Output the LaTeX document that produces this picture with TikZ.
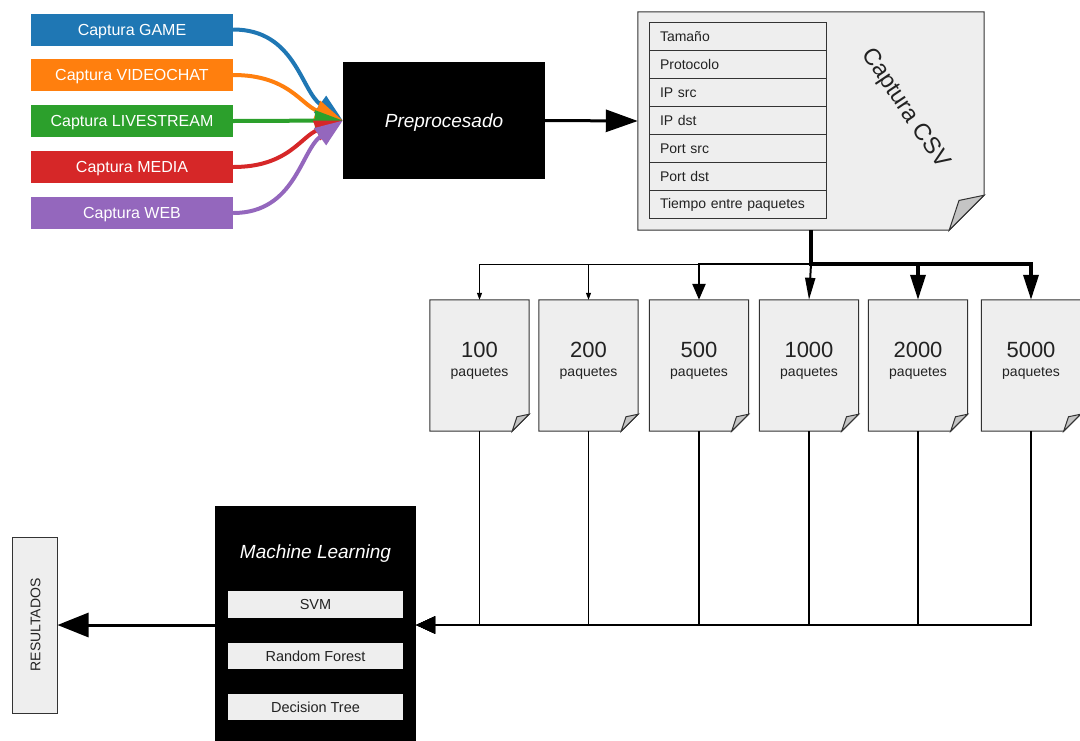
\documentclass[tikz,border=0pt]{standalone}
\usepackage{fontspec}
\setmainfont{Liberation Sans}
\usetikzlibrary{arrows.meta,calc}
\definecolor{cgame}{HTML}{1F77B4}
\definecolor{cvideo}{HTML}{FF7F0E}
\definecolor{clive}{HTML}{2CA02C}
\definecolor{cmedia}{HTML}{D62728}
\definecolor{cweb}{HTML}{9467BD}
\definecolor{docfill}{HTML}{EEEEEE}
\definecolor{docedge}{HTML}{333333}
\definecolor{foldfill}{HTML}{C4C4C4}
\definecolor{txt}{HTML}{222222}
\newcommand\paperdoc[2]{%
  \draw[docline] (#1.north west) -- (#1.north east) -- ([yshift=#2pt]#1.south east) -- ([xshift=-#2pt]#1.south east) -- (#1.south west) -- cycle;
  \draw[foldline] ([xshift=-#2pt]#1.south east) -- ([xshift=-0.72*#2pt, yshift=0.85*#2pt]#1.south east) -- ([yshift=#2pt]#1.south east) -- cycle;}
\begin{document}
\begin{tikzpicture}[x=1pt,y=-1pt,
  capbox/.style={minimum width=202pt, minimum height=32pt, inner sep=0pt, text=white, text height=11.5pt, text depth=0pt, font=\fontsize{16}{19}\selectfont},
  blackbox/.style={fill=black, inner sep=0pt},
  docline/.style={draw=docedge, fill=docfill, line width=1pt},
  foldline/.style={draw=docedge, fill=foldfill, line width=1pt},
  anchorbox/.style={inner sep=0pt, draw=none},
  docbox/.style={anchorbox, minimum width=99pt, minimum height=131pt},
  row/.style={draw=docedge, fill=docfill, line width=1pt, minimum height=28.14pt, inner ysep=0pt, inner xsep=11pt, text width=155pt, align=left, text=txt, font=\fontsize{14}{16}\selectfont},
  numtext/.style={text=txt, font=\fontsize{22}{24}\selectfont, inner sep=0pt},
  paqtext/.style={text=txt, font=\fontsize{14}{16}\selectfont, inner sep=0pt},
  algbox/.style={fill=docfill, minimum width=175pt, minimum height=26.5pt, inner sep=0pt, text=txt, font=\fontsize{14.5}{16}\selectfont},
  inflow/.style={line width=4pt, -{Triangle[length=28pt,width=20pt]}},
  bigarrow/.style={line width=3pt, -{Triangle[length=32pt,width=22pt]}},
  thinbr/.style={line width=1pt, -{Triangle[length=7pt,width=5pt]}},
  midbr/.style={line width=2.5pt, -{Triangle[length=16pt,width=13pt]}},
  medbr/.style={line width=2pt, -{Triangle[length=22pt,width=10pt]}},
  thickbr/.style={line width=3.5pt, -{Triangle[length=25pt,width=15pt]}},
  mlin/.style={-{Triangle[length=19pt,width=17pt]}}
]
\useasboundingbox (0,0) rectangle (1080,740);

% input captures
\node[capbox, fill=cgame] (game) at (132,29.5) {Captura GAME};
\node[capbox, fill=cvideo] (video) at (132,75) {Captura VIDEOCHAT};
\node[capbox, fill=clive] (live) at (132,121) {Captura LIVESTREAM};
\node[capbox, fill=cmedia] (media) at (132,167) {Captura MEDIA};
\node[capbox, fill=cweb] (web) at (132,213) {Captura WEB};

% preprocesado
\node[blackbox, minimum width=202pt, minimum height=117pt, text=white, text height=13.5pt, text depth=0pt, font=\fontsize{19}{22}\selectfont\itshape] (pre) at (444,120.5) {Preprocesado};

\draw[inflow, color=cgame] (game.east) .. controls +(62,0) and +(-42,-30) .. (pre.west);
\draw[inflow, color=cvideo] (video.east) .. controls +(55,0) and +(-42,-16) .. (pre.west);
\draw[inflow, color=clive] (live.east) -- (pre.west);
\draw[inflow, color=cmedia] (media.east) .. controls +(55,0) and +(-42,16) .. (pre.west);
\draw[inflow, color=cweb] (web.east) .. controls +(62,0) and +(-42,30) .. (pre.west);

% CSV document
\node[anchorbox, minimum width=346pt, minimum height=218pt] (csv) at (811,121) {};
\paperdoc{csv}{35}
\node[row] (r1) at (737.5,36.07) {Tamaño};
\node[row] (r2) at (737.5,64.21) {Protocolo};
\node[row] (r3) at (737.5,92.35) {IP src};
\node[row] (r4) at (737.5,120.49) {IP dst};
\node[row] (r5) at (737.5,148.63) {Port src};
\node[row] (r6) at (737.5,176.77) {Port dst};
\node[row] (r7) at (737.5,204.91) {Tiempo entre paquetes};
\node[rotate=-56, text=txt, font=\fontsize{23.5}{26}\selectfont, inner sep=0pt] (csvlabel) at (905,109) {Captura CSV};

\draw[bigarrow] (pre.east) -- (csv.west);

% packet documents
\node[docbox] (d100) at (479.5,365.5) {};
\node[docbox] (d200) at (588.5,365.5) {};
\node[docbox] (d500) at (699,365.5) {};
\node[docbox] (d1000) at (809,365.5) {};
\node[docbox] (d2000) at (918,365.5) {};
\node[docbox] (d5000) at (1031,365.5) {};
\paperdoc{d100}{17}
\paperdoc{d200}{17}
\paperdoc{d500}{17}
\paperdoc{d1000}{17}
\paperdoc{d2000}{17}
\paperdoc{d5000}{17}
\foreach \d/\n in {d100/100, d200/200, d500/500, d1000/1000, d2000/2000, d5000/5000}{
  \node[numtext] at ($(\d.north)+(0,50.5)$) {\n};
  \node[paqtext] at ($(\d.north)+(0,74)$) {paquetes};
}

% distribution bus
\coordinate (bus) at (811,264);
\draw[thinbr] (csv.south) -- (bus) -| (d100.north);
\draw[thinbr] (csv.south) -- (bus) -| (d200.north);
\draw[midbr] (csv.south) -- (bus) -| (d500.north);
\draw[medbr] (csv.south) -- (bus) -- (d1000.north);
\draw[thickbr] (csv.south) -- (bus) -| (d2000.north);
\draw[thickbr] (csv.south) -- (bus) -| (d5000.north);

% machine learning
\node[blackbox, minimum width=201pt, minimum height=238pt] (ml) at (315.5,625) {};
\node[text=white, font=\fontsize{19}{22}\selectfont\itshape, inner sep=0pt] (mltitle) at (315.5,553.5) {Machine Learning};
\node[algbox] (svm) at (315.5,604.5) {SVM};
\node[algbox] (rf) at (315.5,656) {Random Forest};
\node[algbox] (dt) at (315.5,707) {Decision Tree};

\draw[mlin, line width=1pt] (d100.south) |- (ml.east);
\draw[mlin, line width=1pt] (d200.south) |- (ml.east);
\draw[mlin, line width=2pt] (d500.south) |- (ml.east);
\draw[mlin, line width=1.6pt] (d1000.south) |- (ml.east);
\draw[mlin, line width=2.5pt] (d2000.south) |- (ml.east);
\draw[mlin, line width=2.5pt] (d5000.south) |- (ml.east);

% results
\node[draw=docedge, fill=docfill, line width=1pt, minimum width=45pt, minimum height=176pt, inner sep=0pt] (res) at (34.5,625) {};
\node[rotate=90, text=txt, font=\fontsize{14}{16}\selectfont, inner sep=0pt] (restext) at ([xshift=1pt]res.center) {RESULTADOS};
\draw[line width=3pt, -{Triangle[length=31pt,width=24pt]}] (ml.west) -- (res.east);
\end{tikzpicture}
\end{document}
